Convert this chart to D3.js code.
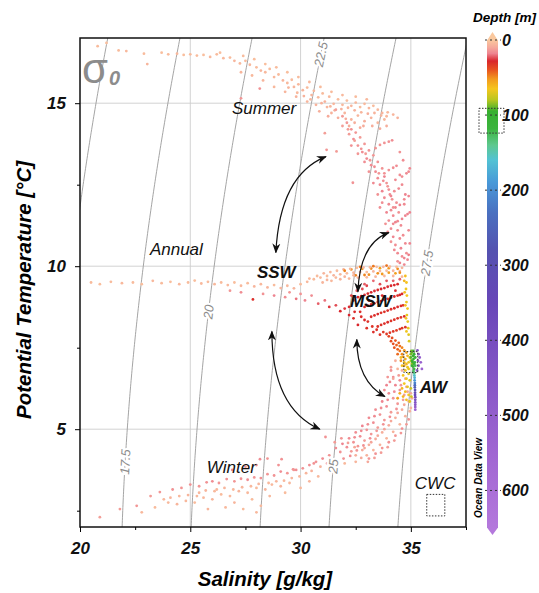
<!DOCTYPE html>
<html>
<head>
<meta charset="utf-8">
<script src="https://cdn.jsdelivr.net/npm/d3@7"></script>
<style>
  body { margin: 0; background: #fff; }
  svg { display: block; font-family: "Liberation Sans", Arial, sans-serif; }
</style>
</head>
<body>
<div id="chart"></div>
<script>
// ── data ─────────────────────────────────────────────────────────
const salinityTicks = [20, 25, 30, 35]
const salinityMinor = [22.5, 27.5, 32.5, 37.5]
const tempTicks = [5, 10, 15]
const tempMinor = [2.5, 7.5, 12.5]
const sigmaLevels = [15, 17.5, 20, 22.5, 25, 27.5]
const sigmaLabels = [[17.5, 4.0], [20, 8.6], [22.5, 16.5], [25, 3.86], [27.5, 10.1]]   // [level, temperature]
const depthTicks = [0, 100, 200, 300, 400, 500, 600]
const depthStops = [0, 10, 18, 28, 40, 52, 65, 80, 95, 118, 140, 160, 190, 230, 280, 350, 450, 550, 650]
const depthColors = ['#fac89e', '#f5a89a', '#ee8490', '#d9262c', '#e8541f', '#f29a1e', '#f5c61e', '#b8c620',
  '#36b030', '#3cb43e', '#5ec88e', '#52c2d4', '#4898d8', '#4a70c0', '#5452b0', '#6846b8', '#8556c6', '#a066d2', '#b478dc']

// [salinity, temperature, depth]
const summerPts = [
  [20.8,16.75,4],[21.2,16.85,3],[21.75,16.62,4],[22.1,16.6,5],[22.9,16.52,4],[23.05,16.2,6],[23.7,16.55,3],[24.0,16.5,4],
  [24.4,16.52,5],[24.7,16.48,3],[25.0,16.5,4],[25.3,16.46,4],[25.6,16.48,3],[25.9,16.42,5],[26.2,16.5,4],[26.35,16.55,3],
  [26.5,16.38,5],[26.8,16.4,4],[27.0,16.3,6],[27.25,16.22,5],[27.5,16.3,4],[27.7,16.18,5],[28.0,16.1,4],[28.2,16.0,6],
  [28.4,15.95,5],[28.6,16.05,4],[28.8,15.8,5],[29.0,15.88,4],[29.2,15.7,6],[29.4,15.62,5],[29.6,15.72,4],[29.7,15.5,6],
  [29.9,15.58,5],[30.1,15.4,6],[30.3,15.48,4],[30.5,15.25,6],[30.6,15.38,5],[30.8,15.18,5],[31.0,15.3,4],[31.1,15.05,7],
  [31.3,15.2,5],[31.5,14.98,6],[31.7,15.12,4],[31.9,14.95,5],[32.1,15.08,4],[32.3,14.92,6],[32.5,15.02,5],[32.7,14.88,4],
  [32.9,14.98,5],[33.1,14.85,6],[33.3,14.92,4],[33.5,14.8,5],[33.7,14.7,6],[33.9,14.6,5],
  [27.3,15.95,6],[27.8,15.85,5],[28.3,15.7,6],[28.8,15.5,5],[29.3,15.35,6],[29.8,15.2,7],[30.3,15.05,6],[30.7,14.95,7],[31.2,14.88,6],
  [31.4,14.7,7],[31.7,14.55,8],[32.0,14.7,6],[32.3,14.5,7],[32.6,14.62,6],[32.9,14.45,8],[33.2,14.55,7],[33.5,14.4,6],[33.8,14.5,5],
  [32.2,14.3,8],[32.7,14.25,9],[28.15,15.45,15],[27.3,15.15,14],
  [29.45,15.48,6],[29.85,15.32,5],[30.15,15.22,7],[30.45,15.12,6],[30.95,15.0,7],[31.35,14.9,6],[31.55,14.78,8],[31.85,14.82,7],
  [32.15,14.86,6],[32.45,14.78,7],[32.75,14.72,6],[33.05,14.68,8],[33.35,14.7,7],[33.65,14.62,6],[33.95,14.72,5],[34.2,14.65,6],
  [34.4,14.55,7],[32.05,14.52,9],[32.45,14.4,8],[32.85,14.3,9],[33.25,14.3,8],[33.6,14.22,9],[33.9,14.3,8],[31.25,14.6,9],
  [30.85,14.75,8],[33.0,15.12,5],[32.5,15.2,4],[31.9,15.25,5],[31.4,15.35,4],[30.9,15.5,4],[30.4,15.65,5],[29.9,15.8,4],
  [29.4,15.95,3],[28.9,16.1,4],[28.4,16.2,3],[27.9,16.35,3],[27.4,16.45,4]
]
const summerPinkPts = [
  [31.6,14.8,12],[31.9,14.6,13],[32.1,14.4,14],[31.9,14.3,12],[32.3,14.2,15],[32.2,14.05,13],[32.5,14.1,14],[32.4,13.9,16],
  [32.7,13.95,13],[32.6,13.7,15],[32.9,13.75,14],[32.8,13.5,16],[33.1,13.55,15],[33.0,13.3,17],[33.3,13.4,14],[33.2,13.1,16],
  [33.5,13.2,15],[33.4,12.9,17],[33.7,13.0,15],[33.5,12.7,16],[33.8,12.75,18],[33.6,12.5,17],[33.9,12.55,15],[33.7,12.3,18],
  [34.0,12.35,16],[33.8,12.1,17],[34.1,12.15,18],[33.7,11.95,16],[34.0,11.9,17],[34.2,11.8,15],[33.9,11.65,18],[34.2,11.55,17],
  [34.0,11.4,16],[34.3,11.35,18],[34.1,11.15,17],[34.4,11.1,16],[34.2,10.9,18],[34.5,10.85,17],[34.3,10.65,16],[34.55,10.55,18],
  [34.4,10.4,17],[34.6,10.3,16],[34.5,10.1,18],[34.7,10.05,17],
  [33.4,13.62,14],[33.6,13.72,14],[33.8,13.78,15],[34.0,13.82,15],[34.15,13.86,16],
  [33.8,12.85,15],[34.0,12.95,15],[34.2,13.02,16],[34.35,13.08,16],
  [34.05,12.2,16],[34.25,12.3,16],[34.45,12.38,17],
  [34.1,11.72,17],[34.3,11.8,17],[34.5,11.88,18],
  [34.2,11.3,17],[34.4,11.38,17],[34.6,11.45,18],
  [31.18,13.57,14],[31.63,13.52,13],[31.1,14.08,12],[32.37,12.56,15],
  [32.15,14.2,13],[32.45,13.85,12],[32.75,13.6,15],[32.95,13.45,13],[33.15,13.25,14],[33.35,13.05,16],[33.55,12.85,14],
  [33.75,12.62,16],[33.95,12.45,14],[34.15,12.05,15],[34.35,11.95,16],[34.45,11.65,15],[34.55,11.25,17],[34.65,10.95,16],
  [34.75,10.7,17],[34.8,10.4,16],[34.85,10.2,18],[34.4,10.15,15],[34.25,10.5,17],[34.1,10.75,15],[33.95,11.05,16],
  [33.85,11.3,15],[33.6,11.8,16],[33.5,12.2,15],[33.3,12.55,17],[33.1,12.9,15],[32.9,13.2,16],[32.6,13.45,14],[32.3,13.7,15],
  [34.6,12.5,17],[34.75,12.2,18],[34.7,11.9,17],[34.85,11.6,18],[34.9,11.1,17],[34.5,12.8,16],[34.3,12.65,17],[34.65,13.25,16],
  [34.5,13.5,15],[34.9,12.9,17],[34.95,10.7,18],[34.9,10.35,19],[34.7,10.25,18],
  [34.6,12.75,16],[34.8,12.85,17],[34.95,13.0,17],[34.7,12.05,17],[34.9,12.15,18],[34.75,11.55,18],[34.95,11.65,18]
]
const sswPts = [
  [20.5,9.5,4],[20.9,9.45,3],[21.4,9.52,4],[21.9,9.48,5],[22.4,9.5,4],[22.8,9.45,3],[23.3,9.55,5],[23.7,9.48,4],[24.1,9.52,3],
  [24.5,9.45,5],[24.9,9.5,4],[25.2,9.56,3],[25.5,9.47,5],[25.8,9.52,4],[26.1,9.45,5],[26.4,9.5,4],[26.7,9.42,5],[27.0,9.5,3],
  [27.3,9.4,5],[27.6,9.48,4],[27.9,9.38,6],[28.2,9.45,5],[28.5,9.35,6],[28.8,9.42,4],[29.1,9.33,6],[29.4,9.4,5],[29.7,9.32,6],
  [30.0,9.45,4],[30.3,9.52,5],[30.6,9.6,4],[30.9,9.65,5],[31.2,9.7,4],[31.5,9.72,6],[31.8,9.75,5],[32.1,9.78,4],[32.4,9.8,6],
  [32.7,9.82,5],[33.0,9.82,4],[33.3,9.84,6],[33.6,9.85,5],[33.9,9.86,4],[34.2,9.86,6],[34.5,9.85,5],
  [31.0,9.5,6],[31.4,9.55,5],[31.8,9.6,6],[32.2,9.62,5],[32.6,9.65,6],[33.0,9.66,5],[33.4,9.68,6],[33.8,9.7,5],[34.2,9.7,6],[34.6,9.68,5],
  [32.3,9.9,50],[32.8,9.92,52],[33.2,9.93,50],[33.6,9.94,54],[34.0,9.94,52],[34.4,9.92,50],[32.5,9.72,48],[33.1,9.74,50],[33.7,9.76,52],[34.3,9.78,54],
  [26.8,9.25,14],[27.3,9.2,16],[27.84,8.98,30],[28.3,9.15,15],[28.8,9.1,18],[29.3,9.05,16],[29.8,9.0,20],[30.2,8.95,18],
  [30.5,9.1,16],[30.8,8.85,22],[31.1,8.95,20],[31.3,8.75,26],[31.6,8.8,24],[31.8,8.62,28],[32.0,8.7,26],[32.2,8.5,28],
  [32.4,8.4,30],[29.5,9.2,14],[30.0,9.15,15],
  [30.4,9.62,5],[30.75,9.7,4],[31.05,9.78,6],[31.35,9.82,5],[31.65,9.86,4],[31.95,9.9,6],[32.25,9.92,5],[32.55,9.95,4],
  [32.85,9.96,6],[33.15,9.97,5],[33.45,9.98,4],[33.75,9.98,6],[34.05,9.99,5],[34.35,9.98,4],[34.6,9.95,6],[31.2,9.58,6],
  [31.6,9.65,5],[32.0,9.68,6],[32.4,9.72,5],[32.9,9.73,48],[33.5,9.78,50],[34.0,9.8,52],[34.5,9.8,50],[32.0,9.86,48],
  [33.9,10.02,45],[33.3,10.0,46],[32.7,9.98,47]
]
const mswPts = [
  [32.6,9.05,28],[32.9,9.12,27],[33.2,9.2,28],[33.5,9.27,29],[33.8,9.33,27],[34.1,9.4,28],[34.4,9.45,29],
  [32.9,8.75,29],[33.2,8.83,28],[33.5,8.9,30],[33.8,8.97,29],[34.1,9.04,28],[34.4,9.1,30],[34.6,9.15,29],
  [33.2,8.45,30],[33.5,8.53,29],[33.8,8.6,31],[34.1,8.68,30],[34.4,8.75,29],[34.65,8.8,31],
  [33.5,8.15,31],[33.8,8.24,30],[34.1,8.32,32],[34.4,8.4,31],[34.7,8.46,30],
  [33.9,7.92,33],[34.2,8.0,32],[34.5,8.07,33],[34.75,8.13,32],
  [32.7,8.6,30],[32.6,8.2,28],[33.0,8.1,31],[33.3,7.98,30],[33.6,7.9,32],[32.9,8.35,29],[33.1,8.95,27],[33.7,9.1,28],
  [34.3,9.25,27],[32.4,8.95,26],[33.0,9.4,25],[33.6,9.45,24],[34.2,9.55,22],[32.8,9.3,24],
  [32.75,9.08,27],[33.05,9.16,28],[33.35,9.24,27],[33.65,9.3,28],[33.95,9.37,27],[34.25,9.42,28],[33.05,8.79,29],[33.35,8.86,28],
  [33.65,8.93,29],[33.95,9.0,30],[34.25,9.07,29],[34.5,9.12,28],[33.35,8.49,30],[33.65,8.57,31],[33.95,8.64,30],[34.25,8.71,29],
  [34.55,8.78,30],[33.65,8.2,31],[33.95,8.28,30],[34.25,8.36,31],[34.55,8.43,32],[34.05,7.96,33],[34.35,8.03,34],[34.6,8.1,33],
  [32.2,8.75,27],[32.45,8.6,29],[32.75,8.45,30],[33.05,8.3,31],[33.25,8.15,32],[33.45,8.05,31],[33.75,7.98,33],[32.3,9.1,25],
  [32.55,9.25,23],[32.9,9.45,22],[33.3,9.55,21],[33.9,9.55,23],[34.5,9.6,22],
  [34.75,9.7,62],[34.8,9.5,64],[34.78,9.3,66],[34.82,9.1,65],[34.8,8.9,67],[34.85,8.7,66],[34.82,8.5,68],[34.86,8.3,67],
  [34.88,8.1,68],[34.9,7.9,70],[34.92,7.7,72],[34.7,9.55,60],[34.72,9.2,62],[34.75,8.8,63],[34.78,8.4,64],[34.8,8.0,66]
]
const awPts = [
  [34.0,7.85,36],[34.15,7.8,38],[34.3,7.72,40],[34.45,7.65,42],[34.2,7.62,38],[34.5,7.55,45],[34.6,7.5,48],[34.4,7.45,42],
  [34.7,7.42,52],[34.8,7.35,55],[34.6,7.3,50],[34.85,7.25,60],[34.95,7.2,66],[34.75,7.15,58],[35.0,7.1,72],[34.9,7.05,68],[35.05,7.0,80],
  [34.1,7.7,38],[34.35,7.58,42],[34.25,7.5,40],[34.5,7.4,46],[34.4,7.3,44],[34.65,7.22,52],[34.55,7.1,50],[34.8,7.0,60],[34.7,6.95,58],[34.9,6.85,68],
  [34.55,7.2,62],[34.7,7.05,65],[34.85,6.9,68],[34.6,6.95,63],[34.75,6.8,66],[34.9,6.7,70],[34.65,6.65,64],[34.8,6.55,67],
  [34.95,6.5,72],[34.7,6.4,65],[34.85,6.3,68],[35.0,6.25,75],[34.6,6.25,60],[34.75,6.15,62],[34.9,6.05,66],[35.02,6.0,74],
  [34.5,6.1,58],[34.65,6.0,60],[34.8,5.9,63],[34.95,5.85,70],[34.4,5.95,55],
  [35.05,7.35,90],[35.1,7.25,95],[35.0,7.3,88],[35.12,7.15,100],[35.08,7.05,102],[35.15,7.0,110],[35.1,6.92,115],[35.15,6.85,120],[35.12,6.78,128],
  [35.0,7.2,92],[35.05,7.1,98],[35.1,7.4,96],[35.15,7.3,105],[35.2,7.2,112],[35.18,7.05,118],[35.2,6.95,125],[35.05,6.95,108],[35.02,7.4,88],
  [35.15,6.72,140],[35.16,6.65,155],[35.17,6.58,170],[35.17,6.5,190],[35.18,6.42,210],[35.18,6.35,235],[35.18,6.28,260],[35.19,6.2,290],
  [35.19,6.12,320],[35.19,6.05,350],[35.2,5.98,380],[35.2,5.9,410],[35.2,5.82,440],[35.2,5.75,470],[35.2,5.68,500],[35.2,5.6,540],
  [35.3,7.42,450],[35.35,7.3,480],[35.4,7.2,500],[35.32,7.1,470],[35.45,7.05,520],[35.35,6.95,490],[35.5,6.85,540],[35.28,6.8,460]
]
const winterPts = [
  [34.3,6.35,18],[34.0,6.1,17],[33.7,5.85,18],[33.4,5.6,16],[33.1,5.35,17],[32.8,5.1,18],[32.5,4.9,16],[32.2,4.72,17],[31.9,4.55,18],[31.6,4.42,16],
  [34.5,6.2,16],[34.2,5.95,15],[33.9,5.7,16],[33.6,5.45,15],[33.3,5.2,16],[33.0,4.98,15],[32.7,4.78,16],[32.4,4.6,15],[32.1,4.45,16],[31.8,4.3,15],
  [34.7,6.05,12],[34.4,5.78,14],[34.1,5.52,13],[33.8,5.28,14],[33.5,5.05,13],[33.2,4.85,14],[32.9,4.65,13],[32.6,4.48,14],[32.3,4.32,13],
  [34.9,5.85,8],[34.6,5.6,9],[34.3,5.35,8],[34.0,5.12,9],[33.7,4.9,8],[33.4,4.7,9],[33.1,4.52,8],[32.8,4.36,9],[32.5,4.2,8],
  [35.0,5.65,6],[34.75,5.4,7],[34.5,5.15,6],[34.2,4.92,7],[33.9,4.72,6],[33.6,4.52,7],[33.3,4.36,6],[33.0,4.2,7],
  [34.9,5.3,14],[34.6,5.02,15],[34.3,4.8,14],[34.0,4.6,15],[33.7,4.42,14],[33.4,4.25,15],[33.1,4.1,14],
  [34.5,6.5,17],[34.8,6.3,12],[35.0,6.1,10],[34.2,6.6,16],[33.9,6.35,18],[33.6,6.05,17],[34.1,6.8,15],
  [34.3,7.1,8],[34.1,6.9,12],[34.4,6.85,6],[34.2,6.55,10],[33.95,6.6,14],
  [34.85,6.15,11],[34.65,5.9,13],[34.35,5.62,15],[34.05,5.38,16],[33.75,5.15,15],[33.45,4.95,14],[33.15,4.72,16],[32.85,4.5,15],
  [32.55,4.35,14],[32.25,4.18,16],[31.95,4.1,15],[31.65,4.0,8],[31.35,3.92,7],[34.95,5.55,7],[34.8,5.15,13],[34.55,4.88,14],
  [34.25,4.65,13],[33.95,4.45,12],[33.65,4.28,13],[33.35,4.12,12],[33.05,4.0,10],[32.75,4.12,9],[32.45,4.45,10],[32.15,4.58,12],
  [31.85,4.72,14],[31.55,4.6,13],[35.05,5.95,9],[34.7,5.75,10],[34.4,5.5,11],[34.1,5.25,10],[33.8,5.0,11],[33.5,4.8,10],
  [33.2,4.6,11],[32.9,4.42,10],[34.55,6.35,14],[34.25,6.15,16],[33.95,5.9,17],[33.65,5.65,16],[33.35,5.4,17],[33.05,5.15,16],
  [32.75,4.95,17],[32.45,4.75,16],[34.75,6.55,10],[34.45,6.65,13],[34.6,6.8,8],[34.05,6.45,17],[33.8,6.2,16],
  [31.3,4.2,15],[31.0,4.1,16],[30.7,4.0,15],[31.2,3.95,8],[30.9,3.85,7],[30.4,3.9,16],[30.1,3.8,15],[30.5,3.72,7],[29.8,3.75,16],
  [29.66,3.77,15],[29.4,3.65,14],[29.1,3.7,16],[28.8,3.58,15],[28.5,3.62,14],[28.16,4.08,16],[29.14,4.08,15],[28.2,3.5,15],
  [27.9,3.52,14],[27.6,3.45,16],[27.3,3.48,15],[27.0,3.4,14],[26.65,3.47,15],[26.3,3.35,14],[26.0,3.4,16],[25.74,3.37,15],
  [25.4,3.25,14],[25.0,3.3,15],[24.6,3.2,14],[24.2,3.15,15],[23.62,3.07,14],[23.2,2.95,13],[22.57,2.65,14],[21.81,2.55,13],
  [20.9,2.3,12],[31.13,4.76,15],[28.5,4.1,14],[27.5,3.85,14],[26.9,3.75,15],
  [30.6,3.95,15],[30.25,3.65,6],[29.95,3.55,5],[29.6,3.5,6],[29.25,3.42,5],[28.9,3.4,6],[28.55,3.35,5],[28.1,3.32,6],
  [27.75,3.25,5],[27.35,3.22,6],[26.95,3.15,5],[26.55,3.2,6],[26.1,3.1,5],[25.7,3.12,6],[25.3,2.95,5],[24.9,2.98,6],
  [24.5,2.95,5],[24.1,2.9,6],[23.8,2.85,5],[28.0,2.45,5],[29.7,3.75,14],[29.0,3.9,15],[28.0,3.9,14],
  [29.5,3.35,5],[29.1,3.25,6],[28.7,3.3,5],[28.4,3.15,6],[28.0,3.2,4],[27.6,3.05,5],[27.2,3.1,6],[26.8,2.95,5],[26.4,3.0,4],
  [26.0,2.85,6],[25.6,2.9,5],[25.2,2.75,4],[24.8,2.8,5],[24.4,2.7,6],[24.0,2.75,5],[25.4,3.05,6],[26.2,3.15,5],[27.0,2.75,6],
  [27.8,2.85,4],[28.6,2.95,5],[29.3,3.05,4],[30.0,3.2,5],[30.4,3.4,6],[26.6,2.6,5],[27.4,2.55,4],[25.8,2.55,6],[28.2,2.65,5],
  [23.4,2.6,4],[22.8,2.45,5],[30.8,3.55,5],[31.5,3.75,6],[32.0,3.95,5],[32.5,4.0,6]
]

// labels: [text, salinity, temperature, bold]
const waterLabels = [
  ['Summer', 26.89, 14.67, false], ['Annual', 23.17, 10.35, false], ['Winter', 25.75, 3.65, false],
  ['CWC', 35.18, 3.17, false], ['SSW', 28.02, 9.65, true], ['MSW', 32.24, 8.76, true], ['AW', 35.4, 6.1, true]
]
// double-headed arrows: [start, control, end] in [salinity, temperature]
const arrows = [
  [[28.88, 10.42], [29.06, 12.8], [31.15, 13.36]],
  [[32.6, 9.22], [32.69, 10.71], [34.0, 11.03]],
  [[28.7, 8.0], [28.7, 5.66], [30.87, 5.0]],
  [[32.55, 7.75], [32.55, 6.48], [33.82, 6.0]]
]
// dotted boxes [s0, s1, t0, t1]
const boxes = [[34.68, 35.31, 6.74, 7.38], [35.72, 36.54, 2.34, 3.0]]

// ── layout ───────────────────────────────────────────────────────
const W = 539, H = 593
const P = { left: 80, right: 466, top: 38, bottom: 527 }
const BAR = { x: 487, w: 11, top: 40, bottom: 528 }

const svg = d3.select('#chart').append('svg').attr('width', W).attr('height', H)

const x = d3.scaleLinear().domain([20, 37.5]).range([P.left, P.right])
const y = d3.scaleLinear().domain([2, 17]).range([P.bottom, P.top])
const color = d3.scaleLinear().domain(depthStops).range(depthColors).clamp(true)
const yD = d3.scaleLinear().domain([0, 650]).range([BAR.top, BAR.bottom])

svg.append('clipPath').attr('id', 'clip').append('rect')
  .attr('x', P.left).attr('y', P.top).attr('width', P.right - P.left).attr('height', P.bottom - P.top)

// grid
const grid = svg.append('g').attr('stroke', '#cdcdcd').attr('stroke-width', 0.9)
salinityTicks.filter(s => s > 20).forEach(s =>
  grid.append('line').attr('x1', x(s)).attr('x2', x(s)).attr('y1', P.top).attr('y2', P.bottom))
tempTicks.forEach(t =>
  grid.append('line').attr('x1', P.left).attr('x2', P.right).attr('y1', y(t)).attr('y2', y(t)))

// ── isopycnals (UNESCO EOS-80, p = 0) ────────────────────────────
function sigma0(S, T) {
  const rw = 999.842594 + 6.793952e-2 * T - 9.095290e-3 * T ** 2 + 1.001685e-4 * T ** 3
    - 1.120083e-6 * T ** 4 + 6.536332e-9 * T ** 5
  const A = 8.24493e-1 - 4.0899e-3 * T + 7.6438e-5 * T ** 2 - 8.2467e-7 * T ** 3 + 5.3875e-9 * T ** 4
  const B = -5.72466e-3 + 1.0227e-4 * T - 1.6546e-6 * T ** 2
  return rw + A * S + B * S ** 1.5 + 4.8314e-4 * S * S - 1000
}
function salinityAt(level, T) {
  let lo = 0, hi = 50
  for (let i = 0; i < 50; i++) {
    const mid = (lo + hi) / 2
    if (sigma0(mid, T) < level) lo = mid; else hi = mid
  }
  return (lo + hi) / 2
}
const gIso = svg.append('g').attr('clip-path', 'url(#clip)')
const line = d3.line().x(d => x(d[0])).y(d => y(d[1]))
sigmaLevels.forEach(level => {
  const pts = d3.range(1.5, 17.6, 0.1).map(T => [salinityAt(level, T), T])
  gIso.append('path').datum(pts).attr('d', line)
    .attr('fill', 'none').attr('stroke', '#9a9a9a').attr('stroke-width', 0.9)
})

// ── points ───────────────────────────────────────────────────────
const gPts = svg.append('g').attr('clip-path', 'url(#clip)')
;[winterPts, summerPts, summerPinkPts, sswPts, mswPts, awPts].forEach(arr => {
  gPts.append('g').selectAll('circle').data(arr).join('circle')
    .attr('cx', d => x(d[0])).attr('cy', d => y(d[1])).attr('r', 1.4)
    .attr('fill', d => color(d[2]))
})

// isopycnal labels
sigmaLabels.forEach(([level, T]) => {
  const a = [x(salinityAt(level, T - 0.3)), y(T - 0.3)]
  const b = [x(salinityAt(level, T + 0.3)), y(T + 0.3)]
  const ang = Math.atan2(b[1] - a[1], b[0] - a[0]) * 180 / Math.PI
  svg.append('text')
    .attr('transform', `translate(${x(salinityAt(level, T))},${y(T)}) rotate(${ang})`)
    .attr('text-anchor', 'middle').attr('dy', '0.35em')
    .style('font-size', '13px').style('font-style', 'italic')
    .attr('fill', '#8c8c8c').attr('stroke', '#fff').attr('stroke-width', 4)
    .attr('paint-order', 'stroke').text(level)
})

// σ0
const sig = svg.append('text').attr('x', 82).attr('y', 83).attr('fill', '#8c8c8c')
sig.append('tspan').style('font-size', '42px').text('σ')
sig.append('tspan').attr('dx', 1).attr('dy', 2).style('font-size', '20px')
  .style('font-weight', 'bold').style('font-style', 'italic').text('0')

// water-mass labels
waterLabels.forEach(([t, s, temp, bold]) => {
  svg.append('text').attr('x', x(s)).attr('y', y(temp))
    .style('font-size', '17px').style('font-style', 'italic')
    .style('font-weight', bold ? 'bold' : 'normal').attr('fill', '#111').text(t)
})

// dotted boxes
boxes.forEach(([s0, s1, t0, t1]) => {
  svg.append('rect').attr('x', x(s0)).attr('y', y(t1))
    .attr('width', x(s1) - x(s0)).attr('height', y(t0) - y(t1))
    .attr('fill', 'none').attr('stroke', '#333').attr('stroke-width', 1)
    .attr('stroke-dasharray', '1.5 1.5')
})

// arrows
const defs = svg.append('defs')
defs.append('marker').attr('id', 'head').attr('viewBox', '0 0 10 10')
  .attr('refX', 9).attr('refY', 5).attr('markerWidth', 10).attr('markerHeight', 10)
  .attr('markerUnits', 'userSpaceOnUse').attr('orient', 'auto-start-reverse')
  .append('path').attr('d', 'M0,1 L10,5 L0,9 L3,5 Z').attr('fill', '#111')
arrows.forEach(([p0, c, p1]) => {
  svg.append('path')
    .attr('d', `M${x(p0[0])},${y(p0[1])} Q${x(c[0])},${y(c[1])} ${x(p1[0])},${y(p1[1])}`)
    .attr('fill', 'none').attr('stroke', '#111').attr('stroke-width', 1.2)
    .attr('marker-start', 'url(#head)').attr('marker-end', 'url(#head)')
})

// frame
svg.append('rect').attr('x', P.left).attr('y', P.top)
  .attr('width', P.right - P.left).attr('height', P.bottom - P.top)
  .attr('fill', 'none').attr('stroke', '#111').attr('stroke-width', 1.5)

// ── axes ─────────────────────────────────────────────────────────
const tickFont = g => g.selectAll('text').style('font-size', '17px')
  .style('font-weight', 'bold').style('font-style', 'italic').attr('fill', '#111')

const gx = svg.append('g').attr('transform', `translate(0,${P.bottom})`)
gx.call(d3.axisBottom(x).tickValues(salinityTicks).tickSize(5).tickPadding(10)).call(tickFont)
gx.append('g').call(d3.axisBottom(x).tickValues(salinityMinor).tickSize(3).tickFormat(''))
gx.selectAll('.domain').remove()

const gy = svg.append('g').attr('transform', `translate(${P.left},0)`)
gy.call(d3.axisLeft(y).tickValues(tempTicks).tickSize(5).tickPadding(9)).call(tickFont)
gy.append('g').call(d3.axisLeft(y).tickValues(tempMinor).tickSize(3).tickFormat(''))
gy.selectAll('.domain').remove()

svg.append('text').attr('x', 265).attr('y', 586)
  .attr('text-anchor', 'middle').style('font-size', '20.5px')
  .style('font-weight', 'bold').style('font-style', 'italic').text('Salinity [g/kg]')
svg.append('text').attr('transform', 'translate(31,290) rotate(-90)')
  .attr('text-anchor', 'middle').style('font-size', '20.5px')
  .style('font-weight', 'bold').style('font-style', 'italic').text('Potential Temperature [°C]')

// ── colour bar ───────────────────────────────────────────────────
const grad = defs.append('linearGradient').attr('id', 'depthGrad')
  .attr('x1', 0).attr('x2', 0).attr('y1', 0).attr('y2', 1)
depthStops.forEach((d, i) => grad.append('stop')
  .attr('offset', d / 650).attr('stop-color', depthColors[i]))

const cx = BAR.x + BAR.w / 2
svg.append('rect').attr('x', BAR.x).attr('y', yD(0)).attr('width', BAR.w)
  .attr('height', yD(650) - yD(0)).attr('fill', 'url(#depthGrad)')
svg.append('path').attr('d', `M${BAR.x},${yD(0) + 0.5} L${cx},${yD(0) - 8} L${BAR.x + BAR.w},${yD(0) + 0.5} Z`)
  .attr('fill', depthColors[0])
svg.append('path').attr('d', `M${BAR.x},${yD(650) - 0.5} L${cx},${yD(650) + 7} L${BAR.x + BAR.w},${yD(650) - 0.5} Z`)
  .attr('fill', depthColors[depthColors.length - 1])

depthTicks.forEach(d => {
  svg.append('line').attr('x1', BAR.x - 2).attr('x2', BAR.x + BAR.w + 3)
    .attr('y1', yD(d)).attr('y2', yD(d))
    .attr('stroke', '#333').attr('stroke-width', 1).attr('stroke-dasharray', '2 3')
  svg.append('text').attr('x', BAR.x + BAR.w + 4).attr('y', yD(d)).attr('dy', '0.35em')
    .style('font-size', '16px').style('font-weight', 'bold').style('font-style', 'italic')
    .attr('fill', '#111').text(d)
})
svg.append('rect').attr('x', BAR.x - 8).attr('y', yD(91)).attr('width', 25)
  .attr('height', yD(124) - yD(91)).attr('fill', 'none')
  .attr('stroke', '#333').attr('stroke-width', 1).attr('stroke-dasharray', '1.5 1.5')

svg.append('text').attr('x', 536).attr('y', 22).attr('text-anchor', 'end')
  .style('font-size', '13.5px').style('font-weight', 'bold').style('font-style', 'italic')
  .text('Depth [m]')
svg.append('text').attr('transform', 'translate(482,478) rotate(-90)')
  .attr('text-anchor', 'middle').style('font-size', '10px')
  .style('font-weight', 'bold').style('font-style', 'italic').text('Ocean Data View')
</script>
</body>
</html>
